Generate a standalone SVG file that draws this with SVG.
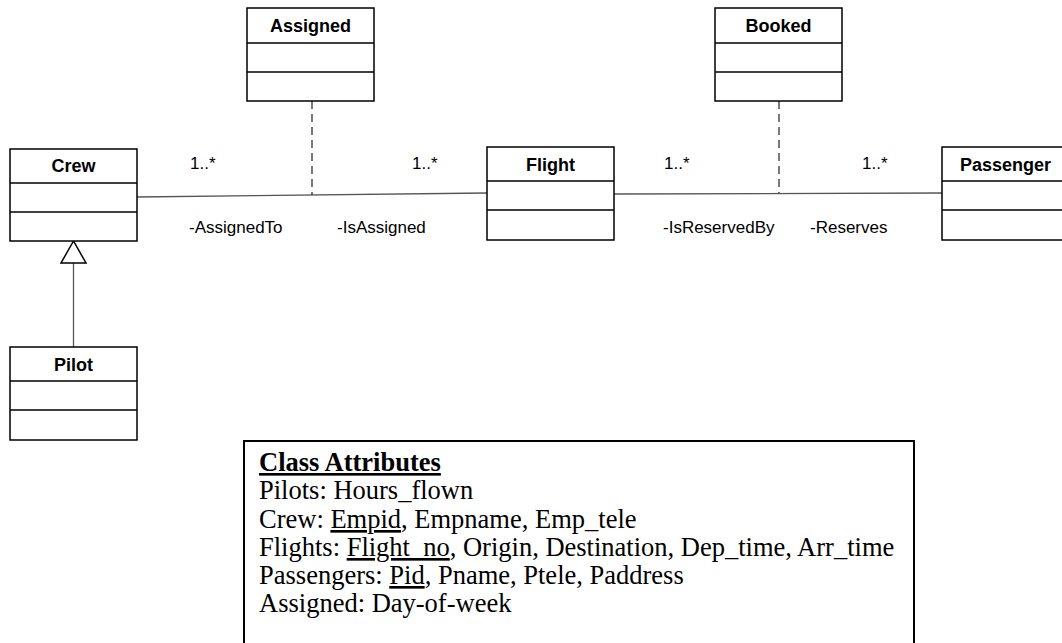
<svg xmlns="http://www.w3.org/2000/svg" width="1062" height="643" viewBox="0 0 1062 643">
<style>
.box{fill:#fff;stroke:#000;stroke-width:1.5}
.div{stroke:#000;stroke-width:1.5}
.name{font-family:"Liberation Sans",Arial,sans-serif;font-weight:bold;font-size:18px;text-anchor:middle;fill:#000}
.lbl{font-family:"Liberation Sans",Arial,sans-serif;font-size:17px;fill:#000}
.assoc{stroke:#555;stroke-width:1.3;fill:none}
.dash{stroke:#222;stroke-width:1.2;stroke-dasharray:8,5;fill:none}
.note{font-family:"Liberation Serif","Times New Roman",serif;font-size:26.5px;fill:#000}
</style>
<rect width="1062" height="643" fill="#fff"/>
<g id="connectors">
<line class="assoc" x1="137" y1="197" x2="487" y2="193"/>
<line class="assoc" x1="614" y1="194" x2="942" y2="193"/>
<line class="dash" x1="312" y1="101" x2="312" y2="195"/>
<line class="dash" x1="779" y1="101" x2="779" y2="193"/>
<line class="assoc" x1="73.5" y1="263" x2="73.5" y2="347"/>
<polygon points="73.5,241 61,263 86,263" fill="#fff" stroke="#000" stroke-width="1.5"/>
<text class="lbl" x="190" y="169">1..*</text>
<text class="lbl" x="412" y="169">1..*</text>
<text class="lbl" x="189" y="233">-AssignedTo</text>
<text class="lbl" x="337" y="233">-IsAssigned</text>
<text class="lbl" x="664" y="169">1..*</text>
<text class="lbl" x="862" y="169">1..*</text>
<text class="lbl" x="663" y="233">-IsReservedBy</text>
<text class="lbl" x="810" y="233">-Reserves</text>
</g>
<g id="assigned">
<rect class="box" x="247" y="8" width="127" height="93"/>
<line class="div" x1="247" y1="43" x2="374" y2="43"/>
<line class="div" x1="247" y1="72" x2="374" y2="72"/>
<text class="name" x="310.5" y="32">Assigned</text>
</g>
<g id="booked">
<rect class="box" x="715" y="8" width="127" height="93"/>
<line class="div" x1="715" y1="43" x2="842" y2="43"/>
<line class="div" x1="715" y1="72" x2="842" y2="72"/>
<text class="name" x="778.5" y="32">Booked</text>
</g>
<g id="crew">
<rect class="box" x="10" y="149" width="127" height="92"/>
<line class="div" x1="10" y1="183" x2="137" y2="183"/>
<line class="div" x1="10" y1="212" x2="137" y2="212"/>
<text class="name" x="73.5" y="172">Crew</text>
</g>
<g id="flight">
<rect class="box" x="487" y="147" width="127" height="93"/>
<line class="div" x1="487" y1="181" x2="614" y2="181"/>
<line class="div" x1="487" y1="210" x2="614" y2="210"/>
<text class="name" x="550.5" y="171">Flight</text>
</g>
<g id="passenger">
<rect class="box" x="942" y="147" width="127" height="93"/>
<line class="div" x1="942" y1="181" x2="1069" y2="181"/>
<line class="div" x1="942" y1="210" x2="1069" y2="210"/>
<text class="name" x="1005.5" y="171">Passenger</text>
</g>
<g id="pilot">
<rect class="box" x="10" y="347" width="127" height="93"/>
<line class="div" x1="10" y1="381" x2="137" y2="381"/>
<line class="div" x1="10" y1="410" x2="137" y2="410"/>
<text class="name" x="73.5" y="371">Pilot</text>
</g>
<g id="attributes">
<rect x="244" y="441" width="670" height="220" fill="#fff" stroke="#000" stroke-width="2"/>
<text class="note" x="259" y="471" font-weight="bold" text-decoration="underline">Class Attributes</text>
<text class="note" x="259" y="499">Pilots: Hours_flown</text>
<text class="note" x="259" y="528">Crew: <tspan text-decoration="underline">Empid</tspan>, Empname, Emp_tele</text>
<text class="note" x="259" y="556">Flights: <tspan text-decoration="underline">Flight_no</tspan>, Origin, Destination, Dep_time, Arr_time</text>
<text class="note" x="259" y="584">Passengers: <tspan text-decoration="underline">Pid</tspan>, Pname, Ptele, Paddress</text>
<text class="note" x="259" y="612">Assigned: Day-of-week</text>
</g>
</svg>
